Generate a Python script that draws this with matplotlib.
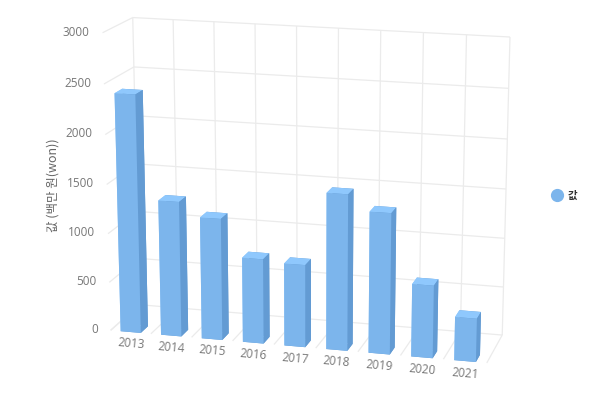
import numpy as np
from matplotlib import pyplot as plt
from matplotlib.lines import Line2D
from mpl_toolkits.mplot3d import proj3d
from mpl_toolkits.mplot3d.art3d import Line3DCollection

years = ['2013', '2014', '2015', '2016', '2017', '2018', '2019', '2020', '2021']
values = [2415, 1375, 1235, 860, 835, 1570, 1415, 730, 435]
y_ticks = [0, 500, 1000, 1500, 2000, 2500, 3000]

series_name = '값'
y_title = '값 (백만 원(won))'

FRONT = '#7cb5ec'
SIDE = '#639bd3'
TOP = '#8fc8fd'
GRID = '#ebebeb'
TEXT = '#777777'

# category index, depth (0 front, 1 back), value -> picture pixel
# the camera is solved from where the corners of the box sit in the picture
corners = [
    ((-0.5, 1, 3000), (132.3, 17.3)),
    ((8.5, 1, 3000), (510, 37)),
    ((8.5, 1, 0), (502, 335)),
    ((-0.5, 1, 0), (140, 305)),
    ((-0.5, 0, 3000), (103, 33)),
    ((-0.5, 0, 0), (110, 330)),
    ((8.5, 0, 0), (487, 363)),
]


def camera_matrix(points):
    a = []
    b = []
    for (x, y, z), (px, py) in points:
        py = 400 - py
        a.append([x, y, z, 1, 0, 0, 0, 0, -px * x, -px * y, -px * z])
        b.append(px)
        a.append([0, 0, 0, 0, x, y, z, 1, -py * x, -py * y, -py * z])
        b.append(py)
    p = np.linalg.lstsq(np.array(a, dtype=float), np.array(b, dtype=float), rcond=None)[0]
    # third row only gives the depth order of the faces
    return np.array([p[:4], p[4:8], [0, 1, 0, 0], [p[8], p[9], p[10], 1]])


def draw_walls(ax):
    segments = []
    for v in y_ticks:
        segments.append([(-0.5, 0, v), (-0.5, 1, v)])
        segments.append([(-0.5, 1, v), (8.5, 1, v)])
    for i in range(10):
        x = i - 0.5
        segments.append([(x, 1, 0), (x, 1, 3000)])
        segments.append([(x, 0, 0), (x, 1, 0)])
    ax.add_collection3d(Line3DCollection(segments, colors=GRID, linewidths=0.9, zorder=1))


def draw_bars(ax):
    n = len(values)
    xs = np.arange(n) - 0.25
    # bottom, top, front, back, left, right
    colors = [SIDE, TOP, FRONT, SIDE, TOP, SIDE] * n
    ax.bar3d(xs, np.zeros(n), np.zeros(n), 0.5, 0.25, values, color=colors, shade=False, edgecolor='none', zorder=2)


def draw_labels(fig, ax, m):
    for v in y_ticks:
        px, py, _ = proj3d.proj_transform(-0.81, 0, v, m)
        ax.text2D(px, py, str(v), transform=ax.transData, ha='right', va='center', color=TEXT, fontsize=8.5,
                  family='Open Sans')
    x0, y0, _ = proj3d.proj_transform(-0.5, 0, 0, m)
    x1, y1, _ = proj3d.proj_transform(8.5, 0, 0, m)
    angle = np.degrees(np.arctan2(y1 - y0, x1 - x0))
    for i, year in enumerate(years):
        px, py, _ = proj3d.proj_transform(i, 0, -125, m)
        ax.text2D(px, py, year, transform=ax.transData, rotation=angle, rotation_mode='anchor', ha='center',
                  va='center', color=TEXT, fontsize=8.5, family='Open Sans')
    fig.text(53 / 600, 1 - 185 / 400, y_title, rotation=90, ha='center', va='center', color='#666666',
             fontsize=9, family='Noto Sans CJK KR')
    handle = Line2D([], [], linestyle='none', marker='o', markersize=8.5, color=FRONT, label=series_name)
    fig.legend(handles=[handle], loc='center left', bbox_to_anchor=(537 / 600, 1 - 196 / 400), frameon=False,
               handletextpad=0.0, prop={'family': 'Noto Sans CJK KR', 'size': 7.5, 'weight': 'bold'},
               labelcolor='#333333')


def main():
    fig = plt.figure(figsize=(6, 4), dpi=100)
    # 3d axes keep a square box, so make it 600x600 px and let it run over the figure
    ax = fig.add_axes([0, -0.25, 1, 1.5], projection='3d', computed_zorder=False)
    ax.set_axis_off()
    m = camera_matrix(corners)
    ax.get_proj = lambda: m
    draw_walls(ax)
    draw_bars(ax)
    draw_labels(fig, ax, m)
    ax.viewLim.intervalx = (0, 600)
    ax.viewLim.intervaly = (-100, 500)
    fig.savefig('out.png')


if __name__ == "__main__":
    main()
